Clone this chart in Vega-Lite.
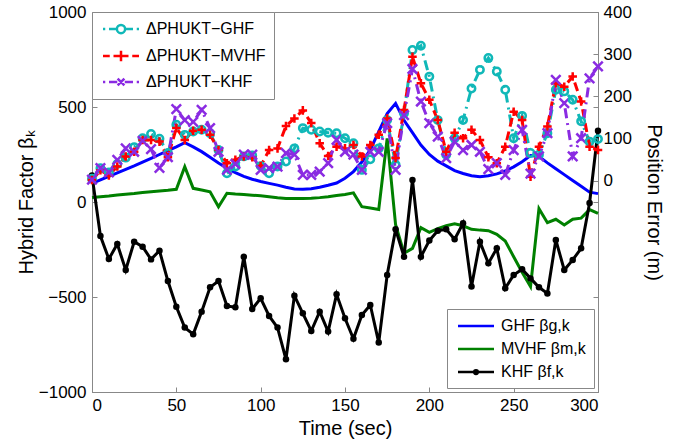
{
"$schema":"https://vega.github.io/schema/vega-lite/v6.json",
"width":506,"height":380,
"autosize":{"type":"none"},
"padding":{"left":92,"top":12,"right":90,"bottom":54},
"background":"white",
"config":{
 "font":"Liberation Sans",
 "view":{"stroke":"#888888","strokeWidth":1},
 "axis":{"grid":false,"domainColor":"#888888","domainWidth":1,"tickColor":"#888888","tickSize":-5,"tickWidth":1,"labelColor":"black","labelFont":"Liberation Sans","labelFontSize":17,"titleFont":"Liberation Sans","titleFontSize":20,"titleFontWeight":"normal","titleColor":"black"},
 "legend":{"labelFont":"Liberation Sans","labelColor":"black","labelFontSize":16,"strokeColor":"#888888","fillColor":"white","padding":8,"rowPadding":6,"symbolStrokeWidth":2.5,"symbolSize":225,"symbolOffset":12,"labelOffset":16,"title":null}
},
"datasets":{"d":[
{"t":0,"bg":98,"bm":24,"bf":140,"pg":5,"pm":2,"pk":3},
{"t":5,"bg":117,"bm":28,"bf":-179,"pg":30,"pm":25,"pk":30},
{"t":10,"bg":135,"bm":32,"bf":-300,"pg":20,"pm":13,"pk":20},
{"t":15,"bg":153,"bm":37,"bf":-221,"pg":40,"pm":34,"pk":50},
{"t":20,"bg":172,"bm":41,"bf":-358,"pg":55,"pm":58,"pk":77},
{"t":25,"bg":190,"bm":45,"bf":-209,"pg":80,"pm":69,"pk":69},
{"t":30,"bg":210,"bm":50,"bf":-235,"pg":101,"pm":97,"pk":95},
{"t":35,"bg":230,"bm":54,"bf":-302,"pg":111,"pm":97,"pk":75},
{"t":40,"bg":250,"bm":58,"bf":-256,"pg":100,"pm":93,"pk":31},
{"t":45,"bg":270,"bm":62,"bf":-416,"pg":66,"pm":56,"pk":56},
{"t":50,"bg":290,"bm":67,"bf":-551,"pg":133,"pm":125,"pk":170},
{"t":55,"bg":312,"bm":186,"bf":-661,"pg":109,"pm":97,"pk":144},
{"t":60,"bg":290,"bm":72,"bf":-696,"pg":117,"pm":119,"pk":140},
{"t":65,"bg":265,"bm":63,"bf":-577,"pg":121,"pm":121,"pk":168},
{"t":70,"bg":235,"bm":54,"bf":-449,"pg":113,"pm":109,"pk":125},
{"t":75,"bg":205,"bm":-25,"bf":-416,"pg":73,"pm":73,"pk":69},
{"t":80,"bg":178,"bm":46,"bf":-547,"pg":18,"pm":42,"pk":26},
{"t":85,"bg":155,"bm":42,"bf":-554,"pg":34,"pm":50,"pk":40},
{"t":90,"bg":135,"bm":39,"bf":-288,"pg":58,"pm":58,"pk":62},
{"t":95,"bg":120,"bm":36,"bf":-563,"pg":60,"pm":56,"pk":62},
{"t":100,"bg":108,"bm":33,"bf":-507,"pg":35,"pm":35,"pk":26},
{"t":105,"bg":98,"bm":28,"bf":-600,"pg":18,"pm":73,"pk":30},
{"t":110,"bg":89,"bm":22,"bf":-661,"pg":34,"pm":77,"pk":34},
{"t":115,"bg":78,"bm":19,"bf":-828,"pg":46,"pm":130,"pk":66},
{"t":120,"bg":69,"bm":18,"bf":-493,"pg":77,"pm":148,"pk":62},
{"t":125,"bg":67,"bm":18,"bf":-586,"pg":125,"pm":167,"pk":14},
{"t":130,"bg":70,"bm":20,"bf":-679,"pg":121,"pm":137,"pk":14},
{"t":135,"bg":78,"bm":23,"bf":-577,"pg":117,"pm":89,"pk":22},
{"t":140,"bg":88,"bm":28,"bf":-682,"pg":114,"pm":59,"pk":42},
{"t":145,"bg":100,"bm":34,"bf":-486,"pg":113,"pm":81,"pk":97},
{"t":150,"bg":125,"bm":40,"bf":-612,"pg":101,"pm":77,"pk":69},
{"t":155,"bg":160,"bm":48,"bf":-720,"pg":89,"pm":85,"pk":62},
{"t":160,"bg":210,"bm":-25,"bf":-595,"pg":26,"pm":58,"pk":26},
{"t":165,"bg":275,"bm":-32,"bf":-542,"pg":51,"pm":85,"pk":69},
{"t":170,"bg":370,"bm":-39,"bf":-740,"pg":77,"pm":109,"pk":69},
{"t":175,"bg":465,"bm":335,"bf":-384,"pg":144,"pm":148,"pk":137},
{"t":180,"bg":519,"bm":-120,"bf":-144,"pg":38,"pm":54,"pk":26},
{"t":185,"bg":430,"bm":-270,"bf":-288,"pg":160,"pm":168,"pk":156},
{"t":190,"bg":365,"bm":-244,"bf":116,"pg":310,"pm":294,"pk":265},
{"t":195,"bg":300,"bm":-135,"bf":-288,"pg":320,"pm":231,"pk":188},
{"t":200,"bg":250,"bm":-160,"bf":-203,"pg":247,"pm":192,"pk":137},
{"t":205,"bg":215,"bm":-140,"bf":-151,"pg":144,"pm":144,"pk":105},
{"t":210,"bg":190,"bm":-125,"bf":-144,"pg":62,"pm":69,"pk":54},
{"t":215,"bg":165,"bm":-115,"bf":-196,"pg":101,"pm":114,"pk":93},
{"t":220,"bg":150,"bm":-125,"bf":-112,"pg":144,"pm":101,"pk":73},
{"t":225,"bg":138,"bm":-144,"bf":-445,"pg":219,"pm":121,"pk":85},
{"t":230,"bg":133,"bm":-148,"bf":-209,"pg":263,"pm":97,"pk":69},
{"t":235,"bg":138,"bm":-151,"bf":-323,"pg":291,"pm":56,"pk":28},
{"t":240,"bg":148,"bm":-170,"bf":-244,"pg":259,"pm":42,"pk":42},
{"t":245,"bg":163,"bm":-205,"bf":-454,"pg":216,"pm":81,"pk":14},
{"t":250,"bg":185,"bm":-288,"bf":-384,"pg":101,"pm":164,"pk":73},
{"t":255,"bg":212,"bm":-370,"bf":-354,"pg":154,"pm":144,"pk":121},
{"t":260,"bg":245,"bm":-445,"bf":-402,"pg":66,"pm":10,"pk":17},
{"t":265,"bg":240,"bm":-35,"bf":-449,"pg":62,"pm":81,"pk":58},
{"t":270,"bg":206,"bm":-109,"bf":-481,"pg":113,"pm":129,"pk":113},
{"t":275,"bg":175,"bm":-91,"bf":-200,"pg":216,"pm":231,"pk":239},
{"t":280,"bg":144,"bm":-121,"bf":-358,"pg":212,"pm":223,"pk":184},
{"t":285,"bg":113,"bm":-91,"bf":-305,"pg":192,"pm":247,"pk":58},
{"t":290,"bg":83,"bm":-85,"bf":-244,"pg":141,"pm":188,"pk":101},
{"t":295,"bg":52,"bm":-40,"bf":-5,"pg":93,"pm":81,"pk":243},
{"t":300,"bg":44,"bm":-60,"bf":375,"pg":99,"pm":73,"pk":271}
]},
"encoding":{"x":{"field":"t","type":"quantitative","scale":{"domain":[0,300],"nice":false,"zero":false},"axis":{"orient":"bottom","values":[0,50,100,150,200,250,300],"format":"d","title":"Time (sec)","labelPadding":10,"titlePadding":5}}},
"layer":[
 {"layer":[
  {"data":{"name":"d"},"transform":[{"fold":["bg","bm","bf"],"as":["series","v"]}],
   "mark":{"type":"line","strokeWidth":3},
   "encoding":{
    "y":{"field":"v","type":"quantitative","scale":{"domain":[-1000,1000],"nice":false},"axis":{"orient":"left","values":[-1000,-500,0,500,1000],"format":"d","title":"Hybrid Factor βₖ","labelPadding":11,"titlePadding":2}},
    "color":{"field":"series","type":"nominal","scale":{"domain":["bg","bm","bf"],"range":["#0000ff","#008000","#000000"]},"legend":null}
   }},
  {"data":{"name":"d"},
   "mark":{"type":"point","filled":true,"color":"black","size":42,"opacity":1},
   "encoding":{
    "y":{"field":"bf","type":"quantitative","axis":{"orient":"right","values":[-1000,-500,0,500,1000],"labels":false,"domain":false,"title":null}}
   }}
 ],
 "resolve":{"axis":{"y":"independent"}}},
 {"layer":[
  {"data":{"name":"d"},"transform":[{"fold":["pg","pm","pk"],"as":["series","p"]}],
   "mark":{"type":"line","strokeWidth":3},
   "encoding":{
    "x":{"field":"t","type":"quantitative","axis":{"orient":"top","values":[0,50,100,150,200,250,300],"labels":false,"domain":false,"title":null}},
    "y":{"field":"p","type":"quantitative","scale":{"domain":[-500,400],"nice":false},"axis":{"orient":"right","values":[0,100,200,300,400],"format":"d","title":"Position Error (m)","labelPadding":10,"titlePadding":12}},
    "color":{"field":"series","type":"nominal","scale":{"domain":["pg","pm","pk"],"range":["#10b8b8","#ff0000","#8a2be2"]},"legend":null},
    "strokeDash":{"field":"series","type":"nominal","scale":{"domain":["pg","pm","pk"],"range":[[10,5,2,5],[9,5],[10,5,2,5]]},"legend":null}
   }},
  {"data":{"name":"d"},"transform":[{"fold":["pg","pm","pk"],"as":["series","p"]}],
   "mark":{"type":"point","filled":false,"strokeWidth":2.5,"opacity":1},
   "encoding":{
    "x":{"field":"t","type":"quantitative","axis":null},
    "y":{"field":"p","type":"quantitative","axis":{"orient":"right","values":[0,100,200,300,400],"format":"d","title":"Position Error (m)","labelPadding":10,"titlePadding":12}},
    "color":{"field":"series","type":"nominal","scale":{"domain":["pg","pm","pk"],"range":["#10b8b8","#ff0000","#8a2be2"]},"legend":null},
    "shape":{"field":"series","type":"nominal","scale":{"domain":["pg","pm","pk"],"range":["circle","M-1,0H1M0,-1V1","M-1,-1L1,1M-1,1L1,-1"]},"legend":null},
    "size":{"field":"series","type":"nominal","scale":{"domain":["pg","pm","pk"],"range":[55,90,42]},"legend":null}
   }}
 ]},
 {"data":{"values":[]},
  "mark":{"type":"point","filled":false,"opacity":1},
  "encoding":{
   "x":{"field":"t","type":"quantitative","axis":null},
   "color":{"field":"series","type":"nominal","scale":{"domain":["bg","bm","bf"],"range":["#0000ff","#008000","#000000"]},
     "legend":{"orient":"bottom-right","offset":4,"title":null,"labelExpr":"datum.label == 'bg' ? 'GHF βg,k' : datum.label == 'bm' ? 'MVHF βm,k' : 'KHF βf,k'"}},
   "shape":{"field":"series","type":"nominal","scale":{"domain":["bg","bm","bf"],"range":["M-2.4,0H2.4","M-2.4,0H2.4","M-2.4,0H2.4M-0.25,0A0.25,0.25 0 1,0 0.25,0A0.25,0.25 0 1,0 -0.25,0"]},
     "legend":{"orient":"bottom-right","offset":4,"title":null,"labelExpr":"datum.label == 'bg' ? 'GHF βg,k' : datum.label == 'bm' ? 'MVHF βm,k' : 'KHF βf,k'"}}
  }},
 {"data":{"values":[]},
  "mark":{"type":"point","filled":false,"opacity":1},
  "encoding":{
   "x":{"field":"t","type":"quantitative","axis":null},
   "color":{"field":"series","type":"nominal","scale":{"domain":["pg","pm","pk"],"range":["#10b8b8","#ff0000","#8a2be2"]},
     "legend":{"orient":"top-left","offset":0,"title":null,"labelExpr":"datum.label == 'pg' ? 'ΔPHUKT−GHF' : datum.label == 'pm' ? 'ΔPHUKT−MVHF' : 'ΔPHUKT−KHF'"}},
   "shape":{"field":"series","type":"nominal","scale":{"domain":["pg","pm","pk"],"range":["M-2.4,0H-2.1M-1.6,0H-0.55M0.55,0H1.6M2.1,0H2.4M-0.55,0A0.55,0.55 0 1,0 0.55,0A0.55,0.55 0 1,0 -0.55,0","M-2.4,0H-1.5M-1,0H1M1.5,0H2.4M0,-0.7V0.7","M-2.4,0H-2.1M-1.6,0H-0.5M0.5,0H1.6M2.1,0H2.4M-0.45,-0.45L0.45,0.45M-0.45,0.45L0.45,-0.45"]},
     "legend":{"orient":"top-left","offset":0,"title":null,"labelExpr":"datum.label == 'pg' ? 'ΔPHUKT−GHF' : datum.label == 'pm' ? 'ΔPHUKT−MVHF' : 'ΔPHUKT−KHF'"}}
  }}
],
"resolve":{"scale":{"y":"independent","color":"independent","shape":"independent"},"axis":{"x":"independent"}}
}
